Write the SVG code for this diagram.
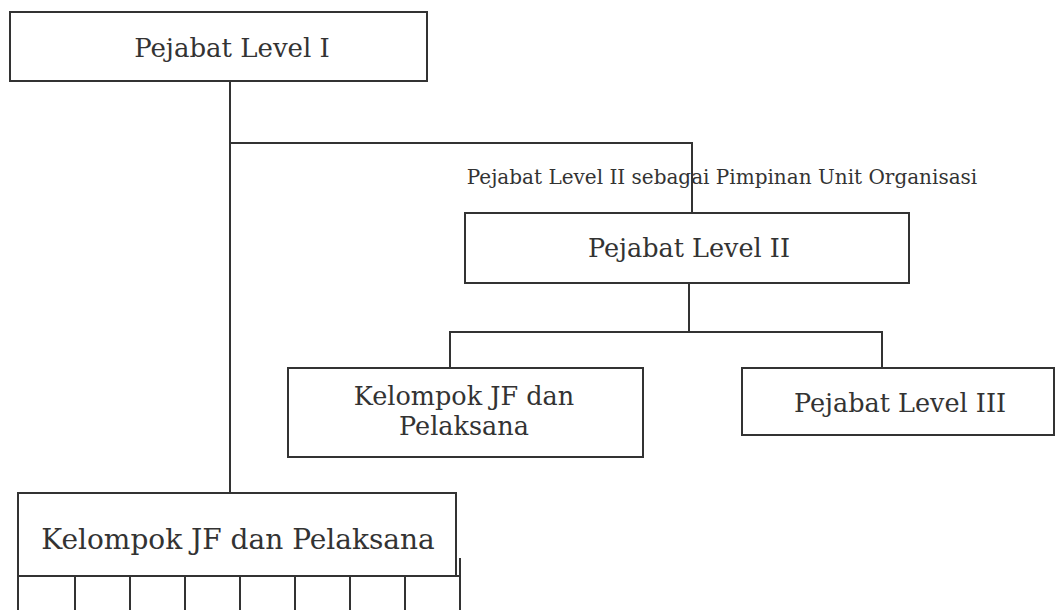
<svg xmlns="http://www.w3.org/2000/svg" width="1057" height="610" viewBox="0 0 1057 610">
  <style>
    .box { fill: #fff; stroke: #333; stroke-width: 2; }
    .line { fill: none; stroke: #333; stroke-width: 2; }
    .t { font-family: "DejaVu Serif", "Liberation Serif", serif; fill: #333; text-anchor: middle; font-size: 25.5px; }
  </style>
  <rect width="1057" height="610" fill="#fff"/>

  <!-- connectors -->
  <g id="connectors">
    <path class="line" d="M230 82 V493"/>
    <path class="line" d="M230 143 H692 V213"/>
    <path class="line" d="M689 283 V332"/>
    <path class="line" d="M450 368 V332 H882 V368"/>
  </g>

  <g id="level1">
    <rect class="box" x="10" y="12" width="417" height="69"/>
    <text class="t" x="232" y="57" style="font-size:26px">Pejabat Level I</text>
  </g>

  <g id="level2-label">
    <text class="t" x="722" y="184" style="font-size:20px">Pejabat Level II sebagai Pimpinan Unit Organisasi</text>
  </g>

  <g id="level2">
    <rect class="box" x="465" y="213" width="444" height="70"/>
    <text class="t" x="689" y="257">Pejabat Level II</text>
  </g>

  <g id="jf-unit">
    <rect class="box" x="288" y="368" width="355" height="89"/>
    <text class="t" x="464" y="405">Kelompok JF dan</text>
    <text class="t" x="464" y="435">Pelaksana</text>
  </g>

  <g id="level3">
    <rect class="box" x="742" y="368" width="312" height="67"/>
    <text class="t" x="900" y="412">Pejabat Level III</text>
  </g>

  <g id="jf-main">
    <path class="line" d="M18 576 V612 M75 576 V612 M130 576 V612 M185 576 V612 M240 576 V612 M295 576 V612 M350 576 V612 M405 576 V612 M460 558 V612 M18 576 H460"/>
    <rect class="box" x="18" y="493" width="438" height="83"/>
    <text class="t" x="238" y="549" style="font-size:28px">Kelompok JF dan Pelaksana</text>
  </g>
</svg>
